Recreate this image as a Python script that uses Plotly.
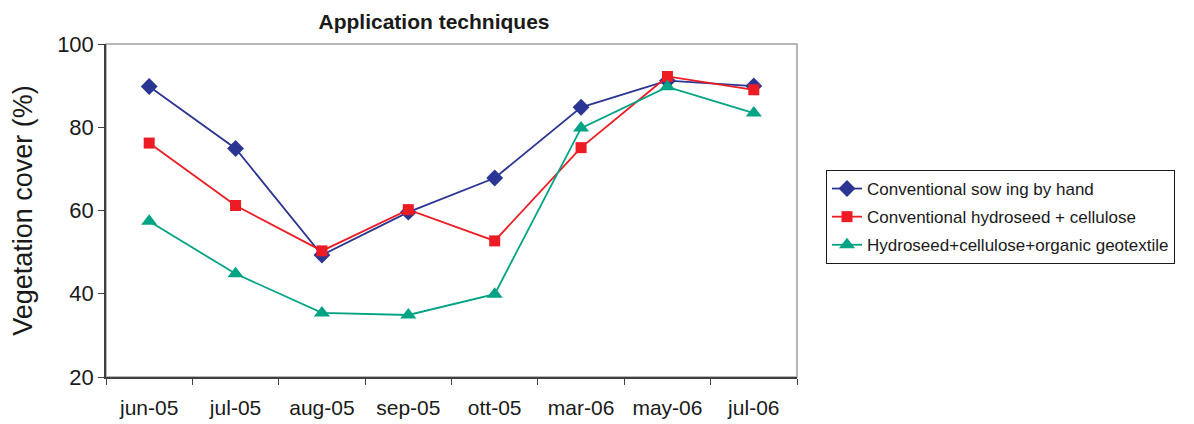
import plotly.graph_objects as go

months = ["jun-05", "jul-05", "aug-05", "sep-05", "ott-05", "mar-06", "may-06", "jul-06"]
sowing_by_hand = [89.8, 74.9, 49.3, 59.6, 67.8, 84.8, 91.2, 89.9]
hydroseed_cellulose = [76.2, 61.2, 50.3, 60.2, 52.7, 75.1, 92.2, 89.0]
hydroseed_geotextile = [57.4, 44.8, 35.4, 34.9, 39.9, 79.8, 89.7, 83.4]

names = ["Conventional sow ing by hand",
         "Conventional hydroseed + cellulose",
         "Hydroseed+cellulose+organic geotextile"]
colors = ["#2b3593", "#ed1c24", "#00a383"]
symbols = ["diamond", "square", "triangle-up"]
sizes = [13, 11, 14]
series = [sowing_by_hand, hydroseed_cellulose, hydroseed_geotextile]

fig = go.Figure()
for i, (nm, ys) in enumerate(zip(names, series)):
    fig.add_trace(go.Scatter(
        x=months, y=ys, name=nm, mode="lines+markers",
        legendgroup=f"g{i}",
        line=dict(color=colors[i], width=1.8),
        marker=dict(symbol=symbols[i], size=sizes[i], color=colors[i]),
    ))

# the page body has an 8px margin, so layout is offset by -8px
OFF = 8
W, H = 1194, 424
L, T = 106 - OFF, 44 - OFF
PW, PH = 691, 333
R = W - L - PW
B = H - T - PH
fig.update_layout(
    width=W, height=H,
    margin=dict(l=L, r=R, t=T, b=B, autoexpand=False),
    paper_bgcolor="white", plot_bgcolor="white",
    font=dict(family="Liberation Sans, Arial, sans-serif", color="#1a1a1a"),
    showlegend=True,
    title=dict(text="<b>Application techniques</b>", x=(434 - OFF) / W, xanchor="center",
               y=1 - (22 - OFF) / H, yanchor="middle", font=dict(size=21, color="#1a1a1a")),
    legend=dict(x=(826 - OFF - L) / PW, xanchor="left", y=(T + PH - (170 - OFF)) / PH, yanchor="top",
                bordercolor="#1a1a1a", borderwidth=1, font=dict(size=17),
                entrywidth=360, entrywidthmode="pixels",
                tracegroupgap=3, bgcolor="white"),
    shapes=[dict(type="rect", xref="paper", yref="paper", x0=0, x1=1, y0=0, y1=1,
                 line=dict(color="#a0a0a0", width=1.5), layer="below")],
)
fig.update_xaxes(type="category", range=[-0.5, 7.5], tickson="boundaries",
                 ticks="outside", ticklen=6, tickcolor="#404040", ticklabelstandoff=11,
                 showline=True, linecolor="#404040", linewidth=1.5, automargin=False,
                 showgrid=False, tickfont=dict(size=21))
fig.update_yaxes(range=[20, 100], dtick=20, ticks="outside", ticklen=6, tickcolor="#404040",
                 showline=True, linecolor="#404040", linewidth=1.5, automargin=False,
                 showgrid=False, zeroline=False, tickfont=dict(size=22),
                 title=dict(text="Vegetation cover (%)", font=dict(size=27), standoff=20))

fig.write_html("out.html")
